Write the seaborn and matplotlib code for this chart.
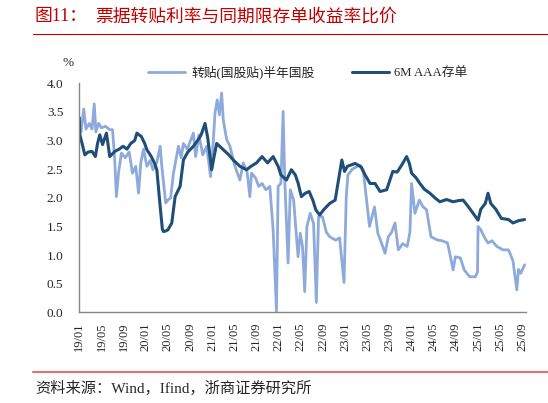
import pandas as pd
import matplotlib
matplotlib.use("Agg")
import matplotlib.pyplot as plt
import seaborn as sns
from matplotlib.lines import Line2D

sns.set_style("white")
plt.rcParams['font.family'] = ['Liberation Serif', 'Noto Sans CJK SC']

# x = months since 2019/01 (%)
bill_months = [0, 0.3, 0.8, 1.2, 1.8, 2.3, 2.7, 3.0, 3.5, 4.0, 4.7, 5.5, 6.0, 6.4, 6.7, 7.1,
               7.6, 8.3, 9.0, 9.6, 10.2, 10.7, 11.1, 11.6, 12.2, 12.8, 13.3, 14.0, 14.6, 14.9,
               15.6, 16.0, 16.5, 17.0, 17.9, 18.4, 18.8, 19.5, 20.6, 21.0, 21.6, 22.3, 23.0,
               23.7, 24.2, 24.5, 24.9, 25.3, 25.7, 26.0, 26.6, 27.2, 28.1, 29.0, 29.6, 30.3,
               30.8, 31.1, 31.8, 32.4, 33.0, 33.7, 34.4, 35.0, 35.6, 35.9, 36.4, 36.8, 37.1,
               37.7, 38.1, 38.7, 39.5, 39.9, 40.3, 40.7, 41.1, 41.7, 42.3, 42.8, 43.2, 43.9,
               44.6, 45.2, 46.3, 47.0, 47.8, 48.2, 48.5, 49.3, 50.6, 51.3, 51.8, 52.4, 53.3,
               53.9, 54.6, 55.2, 55.8, 56.4, 57.0, 57.6, 58.4, 59.2, 59.7, 60.0, 60.6, 61.4,
               62.0, 62.7, 63.5, 64.7, 65.5, 66.5, 67.5, 67.9, 68.8, 69.5, 70.5, 71.5, 71.9,
               72.0, 72.5, 73.2, 73.8, 74.5, 75.4, 76.5, 77.5, 78.3, 79.0, 79.3, 79.7, 80.4]
bill_rate = [3.30, 3.15, 3.55, 3.20, 3.30, 3.20, 3.64, 3.15, 3.30, 3.22, 3.25, 3.19, 3.19, 2.66,
             2.02, 2.45, 2.78, 2.70, 2.80, 2.43, 2.55, 2.08, 2.61, 2.85, 2.55, 2.65, 2.49, 2.62,
             2.90, 2.55, 1.91, 1.96, 2.00, 2.43, 2.90, 2.70, 2.95, 2.85, 3.13, 2.72, 3.10, 2.75,
             2.90, 2.37, 3.00, 3.48, 3.71, 3.45, 3.83, 3.36, 3.02, 2.90, 2.55, 2.31, 2.61, 2.45,
             2.02, 2.43, 2.35, 2.20, 2.25, 2.14, 2.20, 1.44, 0.02, 2.20, 2.25, 3.51, 2.31, 0.86,
             2.14, 1.96, 0.97, 1.38, 1.15, 0.36, 1.50, 1.73, 1.55, 0.17, 1.67, 1.67, 1.40, 1.32,
             1.26, 1.30, 0.52, 2.02, 2.40, 2.50, 2.57, 2.45, 2.02, 1.50, 1.84, 1.38, 1.20, 1.03,
             1.32, 1.40, 1.56, 1.09, 1.20, 1.15, 1.40, 2.25, 1.73, 1.96, 1.85, 1.79, 1.32, 1.26,
             1.25, 1.21, 0.74, 0.97, 0.95, 0.74, 0.62, 0.62, 0.70, 1.50, 1.44, 1.30, 1.21, 1.25,
             1.15, 1.09, 1.09, 0.90, 0.39, 0.75, 0.68, 0.83]

cd_months = [0, 0.1, 0.5, 1.0, 1.6, 2.3, 2.9, 3.3, 3.7, 4.2, 4.9, 5.5, 6.4, 7.2, 7.9, 8.6, 9.3,
             10.0, 10.4, 11.2, 11.8, 12.2, 13.0, 13.6, 14.0, 14.6, 15.0, 15.2, 15.6, 16.0, 16.7,
             17.3, 18.2, 18.8, 19.6, 20.6, 21.5, 22.0, 22.7, 23.2, 23.9, 24.3, 24.8, 26.0, 27.0,
             27.8, 29.0, 30.2, 31.0, 32.0, 33.0, 34.0, 35.0, 35.9, 36.4, 37.4, 38.3, 39.0, 39.5,
             40.1, 40.8, 41.5, 42.2, 42.7, 43.4, 44.2, 45.2, 46.2, 46.8, 47.4, 47.9, 48.4, 49.8,
             50.9, 51.6, 52.5, 53.4, 54.3, 55.5, 56.6, 57.4, 58.2, 59.1, 59.6, 60.0, 60.8, 61.5,
             62.3, 63.3, 64.2, 65.1, 66.3, 67.5, 68.4, 69.3, 70.2, 71.1, 72.0, 72.5, 73.3, 73.8,
             74.3, 75.2, 76.2, 77.5, 78.3, 79.3, 80.4]
cd_rate = [3.40, 3.10, 2.95, 2.75, 2.80, 2.81, 2.72, 2.95, 3.10, 2.93, 3.13, 2.72, 2.81, 2.85,
           2.90, 2.85, 2.95, 3.00, 3.13, 3.07, 2.95, 2.84, 2.72, 2.60, 2.49, 1.85, 1.45, 1.41,
           1.42, 1.44, 1.56, 2.02, 2.20, 2.66, 2.80, 2.90, 3.02, 3.10, 3.30, 3.04, 2.49, 2.70,
           2.95, 2.84, 2.75, 2.66, 2.55, 2.49, 2.55, 2.61, 2.72, 2.61, 2.72, 2.55, 2.40, 2.31,
           2.49, 2.40, 2.26, 2.02, 2.08, 2.11, 1.95, 1.79, 1.70, 1.80, 1.90, 1.96, 2.31, 2.66,
           2.46, 2.55, 2.60, 2.54, 2.40, 2.25, 2.25, 2.11, 2.14, 2.46, 2.45, 2.57, 2.72, 2.60,
           2.43, 2.35, 2.25, 2.15, 2.08, 2.00, 1.93, 1.97, 1.93, 1.95, 1.96, 1.85, 1.73, 1.61,
           1.80, 1.90, 2.08, 1.90, 1.80, 1.64, 1.62, 1.56, 1.60, 1.62]

x_tick_months = list(range(0, 81, 4))
x_tick_labels = ['19/01', '19/05', '19/09', '20/01', '20/05', '20/09', '21/01', '21/05', '21/09',
                 '22/01', '22/05', '22/09', '23/01', '23/05', '23/09', '24/01', '24/05', '24/09',
                 '25/01', '25/05', '25/09']
y_ticks = [0.0, 0.5, 1.0, 1.5, 2.0, 2.5, 3.0, 3.5, 4.0]

LIGHT = '#8EAADB'
DARK = '#1F4E79'
RED = '#C00000'
AXIS = '#868686'

fig = plt.figure(figsize=(5.48, 4.03), dpi=100)
ax = fig.add_axes([0.1447, 0.2251, 0.8146, 0.5682])

bill = pd.DataFrame({'month': bill_months, 'rate': bill_rate})
cd = pd.DataFrame({'month': cd_months, 'rate': cd_rate})
sns.lineplot(data=bill, x='month', y='rate', ax=ax, color=LIGHT, lw=2.0,
             label='转贴(国股贴)半年国股')
sns.lineplot(data=cd, x='month', y='rate', ax=ax, color=DARK, lw=2.2,
             label='6M AAA存单')

ax.set_xlim(0, 80.6)
ax.set_ylim(0, 4)
ax.set_xticks(x_tick_months)
ax.set_xticklabels(x_tick_labels, rotation=90, fontsize=9)
ax.set_yticks(y_ticks)
ax.set_yticklabels([f'{v:.1f}' for v in y_ticks], fontsize=9.5)
ax.set_xlabel('')
ax.set_ylabel('')
ax.tick_params(direction='out', length=4, width=0.8, color=AXIS)
ax.tick_params(axis='x', pad=3.5)
ax.tick_params(axis='y', pad=7.5)
for side in ['top', 'right']:
    ax.spines[side].set_visible(False)
for side in ['left', 'bottom']:
    ax.spines[side].set_color(AXIS)
    ax.spines[side].set_linewidth(1.0)

ax.legend(loc='center', bbox_to_anchor=(0.562, 0.821), bbox_transform=fig.transFigure,
          ncol=2, frameon=False, fontsize=9.2, handlelength=2.9, handletextpad=0.45,
          columnspacing=2.9)

fig.text(68 / 548, 1 - 63 / 403, '%', fontsize=9.5, ha='center', va='center')

# header / footer
fig.text(35 / 548, 1 - 17 / 403, '图11：', color=RED, fontsize=12.8, va='center',
         family=['Liberation Serif', 'Noto Sans CJK SC'])
fig.text(95 / 548, 1 - 17 / 403, '票据转贴利率与同期限存单收益率比价', color=RED,
         fontsize=12.8, va='center', family='Noto Sans CJK SC')
fig.add_artist(Line2D([33 / 548, 1], [1 - 34 / 403] * 2, color=RED, lw=0.8,
                      transform=fig.transFigure))
fig.add_artist(Line2D([33 / 548, 1], [1 - 372 / 403] * 2, color='#E47070', lw=1.5,
                      transform=fig.transFigure))
fig.text(35 / 548, 1 - 388 / 403, '资料来源：Wind，Ifind，浙商证券研究所', fontsize=11,
         va='center')

fig.savefig('out.png', dpi=100)
